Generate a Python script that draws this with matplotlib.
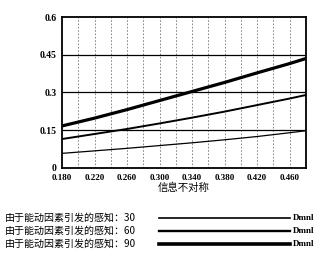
import numpy as np
import matplotlib.pyplot as plt
from matplotlib.lines import Line2D

plt.rcParams['font.family'] = ['Noto Sans CJK SC', 'DejaVu Sans']

# data
x = [0.18, 0.22, 0.26, 0.30, 0.34, 0.38, 0.42, 0.46, 0.48]
y30 = [0.058, 0.068, 0.078, 0.089, 0.100, 0.112, 0.125, 0.140, 0.148]
y60 = [0.115, 0.135, 0.155, 0.177, 0.200, 0.224, 0.250, 0.276, 0.290]
y90 = [0.167, 0.198, 0.232, 0.268, 0.304, 0.340, 0.378, 0.415, 0.435]
series = [('30', y30, 0.9), ('60', y60, 1.4), ('90', y90, 2.3)]
xticks = [0.18, 0.22, 0.26, 0.30, 0.34, 0.38, 0.42, 0.46]
yticks = [0, 0.15, 0.3, 0.45, 0.6]
ytick_labels = ['0', '0.15', '0.3', '0.45', '0.6']

fig = plt.figure(figsize=(3.22, 2.58), dpi=100)
ax = fig.add_axes([0.1925, 0.349, 0.7575, 0.585])

# grid
for gx in np.arange(0.20, 0.48, 0.02):
    ax.axvline(gx, color='#777777', linestyle=(0, (2, 2)), linewidth=0.6, zorder=1)
for gy in [0.15, 0.3, 0.45]:
    ax.axhline(gy, color='black', linewidth=0.9, zorder=1)

for name, ys, lw in series:
    ax.plot(x, ys, color='black', linewidth=lw, zorder=3)

ax.set_xlim(0.18, 0.48)
ax.set_ylim(0, 0.6)
ax.set_xticks(xticks)
ax.set_xticklabels(['%.3f' % t for t in xticks], family='Liberation Serif',
                   fontweight='bold', fontsize=6.5)
ax.set_yticks(yticks)
ax.set_yticklabels(ytick_labels, family='Liberation Serif',
                   fontweight='bold', fontsize=7)
ax.tick_params(length=0, pad=4)
for sp in ax.spines.values():
    sp.set_linewidth(1.3)
ax.set_xlabel('信息不对称', fontsize=7.5, labelpad=1)

# legend below
ly = [1 - 218/258, 1 - 231/258, 1 - 244/258]
for (name, ys, lw), yy in zip(series, ly):
    fig.text(5/322, yy, '由于能动因素引发的感知：' + name, fontsize=7.2,
             fontweight='medium', va='center')
    fig.add_artist(Line2D([159/322, 290/322], [yy, yy], color='black',
                          linewidth=lw + 0.3, transform=fig.transFigure))
    fig.text(293/322, yy, 'Dmnl', fontsize=6.5, family='Liberation Serif',
             fontweight='bold', va='center')

fig.savefig('out.png', dpi=100)
